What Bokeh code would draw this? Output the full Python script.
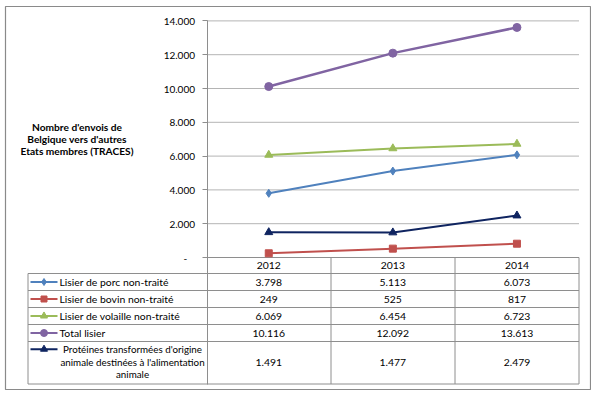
from bokeh.plotting import figure
from bokeh.models import Range1d, LinearAxis, FixedTicker
from bokeh.core.properties import value
from bokeh.embed import file_html
from bokeh.resources import INLINE

# ---------------- data ----------------
years = [2012, 2013, 2014]
year_labels = ["2012", "2013", "2014"]
series_names = [
    "Lisier de porc non-traité",
    "Lisier de bovin non-traité",
    "Lisier de volaille non-traité",
    "Total lisier",
    "Protéines transformées d'origine animale destinées à l'alimentation animale",
]
porc = [3798, 5113, 6073]
bovin = [249, 525, 817]
volaille = [6069, 6454, 6723]
total = [10116, 12092, 13613]
proteines = [1491, 1477, 2479]
y_ticks = [0, 2000, 4000, 6000, 8000, 10000, 12000, 14000]
y_tick_labels = ["-\u00a0\u00a0\u00a0", "2.000", "4.000", "6.000", "8.000", "10.000", "12.000", "14.000"]
y_title = ["Nombre d'envois de", "Belgique vers d'autres", "Etats membres (TRACES)"]
proteines_wrapped = ["Protéines transformées d'origine", "animale destinées à l'alimentation", "animale"]

series = [porc, bovin, volaille, total, proteines]
colors = ["#4F81BD", "#C0504D", "#9BBB59", "#8064A2", "#0F2460"]
markers = ["diamond", "square", "triangle", "circle", "triangle"]
msizes = [8, 7, 8, 8, 8]
lwidths = [2, 2, 2, 2.5, 2]

# ---------------- layout (page pixels) ----------------
FL, FT, FR, FB = 5, 6, 591, 390     # frame (outer border) edges
X0_PX, DX_PX = 268.25, 124.1
Y0_PX, YT_PX = 257.0, 20.4
FONT = "Lato"
FS = "10.4px"
GRID_C = "#B4B4B4"
LINE_C = "#8E8E8E"


def xd(px):
    return years[0] + (px - X0_PX) / DX_PX


def yd(py):
    return (Y0_PX - py) * y_ticks[-1] / (Y0_PX - YT_PX)


AX_PX = 206.5
RIGHT_PX = 578.5
LEFT_TAB_PX = 27.5
COL_PX = [AX_PX, 330.5, 454.5, RIGHT_PX]
ROW_PX = [257.0, 273.0, 290.0, 307.0, 324.0, 341.0, 383.5]

p = figure(width=FR, height=FB, output_backend="svg", toolbar_location=None,
           x_range=Range1d(xd(FL), xd(FR)), y_range=Range1d(yd(FB), yd(FT)),
           x_axis_type=None, y_axis_type=None,
           min_border_left=FL, min_border_top=FT, min_border_right=0, min_border_bottom=0,
           outline_line_color="#8A8A8A", outline_line_width=1.2,
           background_fill_color="white", border_fill_color="white")

# y axis drawn at the plot-area left edge, continuing down through the table
yaxis = LinearAxis(fixed_location=xd(AX_PX), ticker=FixedTicker(ticks=y_ticks),
                   major_label_overrides={t: l for t, l in zip(y_ticks, y_tick_labels)},
                   bounds=(yd(ROW_PX[-1]), y_ticks[-1]),
                   axis_line_color=LINE_C, major_tick_line_color=LINE_C,
                   major_tick_in=0, major_tick_out=5, minor_tick_line_color=None,
                   major_label_standoff=7, major_label_text_font=FONT,
                   major_label_text_font_size="10px", major_label_text_color="#000000")
p.add_layout(yaxis, "left")

# horizontal gridlines
gt = y_ticks[1:]
p.segment(x0=[xd(AX_PX)] * len(gt), x1=[xd(RIGHT_PX)] * len(gt), y0=gt, y1=gt,
          line_color=GRID_C, line_width=1)

# data table lines
hx0, hx1, hy0, hy1 = [], [], [], []
for i, r in enumerate(ROW_PX):
    hx0.append(xd(AX_PX) if i == 0 else xd(LEFT_TAB_PX))
    hx1.append(xd(RIGHT_PX))
    hy0.append(yd(r))
    hy1.append(yd(r))
for c in COL_PX[1:]:
    hx0.append(xd(c)); hx1.append(xd(c)); hy0.append(yd(ROW_PX[0])); hy1.append(yd(ROW_PX[-1]))
hx0.append(xd(LEFT_TAB_PX)); hx1.append(xd(LEFT_TAB_PX)); hy0.append(yd(ROW_PX[1])); hy1.append(yd(ROW_PX[-1]))
p.segment(x0=hx0, x1=hx1, y0=hy0, y1=hy1, line_color=LINE_C, line_width=1)

# series lines and markers
for vals, c, m, s, lw in zip(series, colors, markers, msizes, lwidths):
    p.line(years, vals, line_color=c, line_width=lw)
    p.scatter(years, vals, marker=m, size=s, fill_color=c, line_color=c)

# y-axis title
p.text(x=[xd(76.5)] * 3, y=[yd(v) for v in (126.5, 138.5, 150.5)], text=y_title,
       text_font=value(FONT), text_font_size="10.2px", text_font_style="bold",
       text_align="center", text_baseline="middle", text_color="#000000")

# table header (years)
hdr_y = yd((ROW_PX[0] + ROW_PX[1]) / 2)
p.text(x=years, y=[hdr_y] * 3, text=year_labels, text_font=value(FONT),
       text_font_size=FS, text_align="center", text_baseline="middle", text_color="#000000")


def fmt(v):
    return f"{v:,}".replace(",", ".")


row_centers = [(ROW_PX[i] + ROW_PX[i + 1]) / 2 for i in range(1, 6)]
sample_py = row_centers[:4] + [348.7]
for i, (vals, c, m, s) in enumerate(zip(series, colors, markers, msizes)):
    yc = yd(row_centers[i])
    ys = yd(sample_py[i])
    # legend sample
    p.segment(x0=[xd(30)], x1=[xd(57)], y0=[ys], y1=[ys], line_color=c, line_width=2)
    p.scatter([xd(43.5)], [ys], marker=m, size=s - 1, fill_color=c, line_color=c)
    # values
    p.text(x=years, y=[yc] * 3, text=[fmt(v) for v in vals], text_font=value(FONT),
           text_font_size=FS, text_align="center", text_baseline="middle",
           text_color="#000000")

# row labels
for i in range(4):
    p.text(x=[xd(59)], y=[yd(row_centers[i])], text=[series_names[i]], text_font=value(FONT),
           text_font_size=FS, text_align="left", text_baseline="middle",
           text_color="#000000")
p.text(x=[xd(132)] * 3, y=[yd(v) for v in (348.7, 361.0, 373.3)], text=proteines_wrapped,
       text_font=value(FONT), text_font_size="9.8px", text_align="center",
       text_baseline="middle", text_color="#000000")

open("out.html", "w").write(file_html(p, INLINE))
